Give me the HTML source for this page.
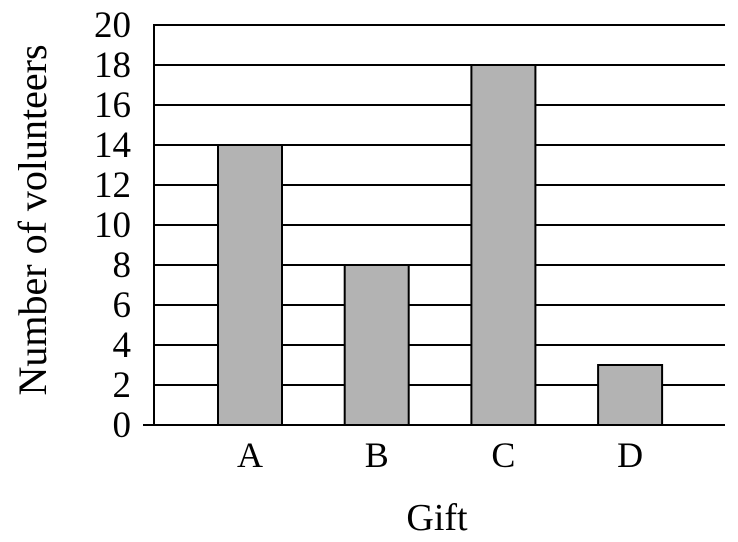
<!DOCTYPE html>
<html><head><meta charset="utf-8"><style>body{margin:0;background:#fff}svg text{font-family:"Liberation Serif",serif;fill:#000}</style></head>
<body>
<svg width="738" height="537" viewBox="0 0 738 537" xmlns="http://www.w3.org/2000/svg">
<g id="grid"></g><g id="bars"></g><g id="labels"></g>
<text transform="translate(46,220) rotate(-90)" text-anchor="middle" style="font-size:40px">Number of volunteers</text>
<text x="437" y="530" text-anchor="middle" style="font-size:38px">Gift</text>
</svg>
<script>
const categories=["A","B","C","D"];
const values=[14,8,18,3];
const yTicks=[0,2,4,6,8,10,12,14,16,18,20];
const NS="http://www.w3.org/2000/svg";
const y=v=>425-v*20;
const x=i=>218+i*126.7;
function mk(t,a,p){const e=document.createElementNS(NS,t);for(const k in a)e.setAttribute(k,a[k]);document.getElementById(p).appendChild(e);return e;}
yTicks.forEach(v=>{
 const l=mk('line',{x1:v===0?143:153,x2:725,y1:y(v),y2:y(v),stroke:'#000','stroke-width':2},'grid');
 
 
 const t=mk('text',{x:131,y:y(v)+12,'text-anchor':'end',style:'font-size:37px'},'labels');
 t.textContent=v;
 
 
});
const ax=mk('line',{x1:154,x2:154,y1:y(20),y2:y(0)+1,stroke:'#000','stroke-width':2},'grid');


categories.forEach((c,i)=>{
 const r=mk('rect',{x:x(i),y:y(values[i]),width:64,height:values[i]*20,fill:'#b3b3b3',stroke:'#000','stroke-width':2},'bars');
 
 
 const t=mk('text',{x:x(i)+32,y:467,'text-anchor':'middle',style:'font-size:36px'},'labels');
 t.textContent=c;
 
 
});
</script>
</body></html>
